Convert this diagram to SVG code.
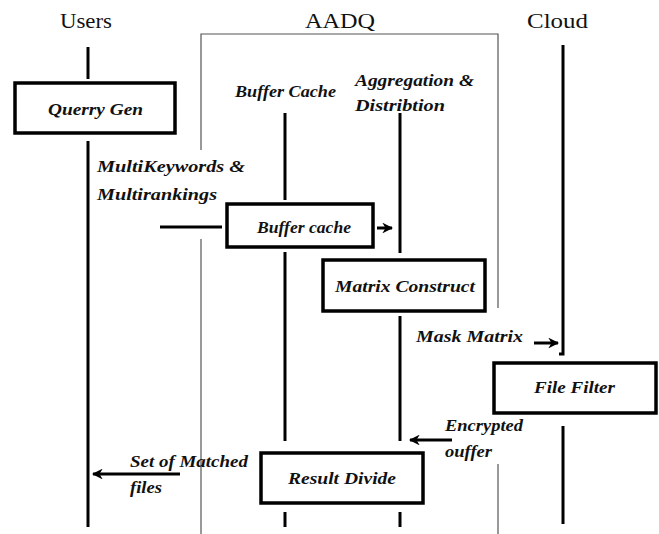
<svg xmlns="http://www.w3.org/2000/svg" width="659" height="534" viewBox="0 0 659 534">
<defs>
<marker id="ah" viewBox="0 0 10 10" refX="9" refY="5" markerWidth="3.6" markerHeight="3.6" orient="auto" markerUnits="strokeWidth">
<path d="M0,0 L10,5 L0,10 L3,5 z" fill="#000"/>
</marker>
<style>
.title{font-family:'Liberation Serif','DejaVu Serif',serif;font-size:22px;fill:#111}
.lbl{font-family:'Liberation Serif','DejaVu Serif',serif;font-style:italic;font-weight:bold;font-size:17px;fill:#111}
.life{stroke:#000;stroke-width:3;fill:none}
.box{stroke:#000;stroke-width:3.5;fill:#fff}
.frame{stroke:#555;stroke-width:1.2;fill:none}
.msg{stroke:#000;stroke-width:3;fill:none}
</style>
</defs>
<rect width="659" height="534" fill="#fff"/>
<g id="titles">
<text class="title" x="60" y="28" textLength="52" lengthAdjust="spacingAndGlyphs">Users</text>
<text class="title" x="305" y="28" textLength="70" lengthAdjust="spacingAndGlyphs">AADQ</text>
<text class="title" x="527" y="28" textLength="61" lengthAdjust="spacingAndGlyphs">Cloud</text>
</g>
<g id="aadq-frame">
<path class="frame" d="M201,150 V34 H498 V308"/>
<path class="frame" d="M201,239 V534"/>
<path class="frame" d="M498,464 V534"/>
</g>
<g id="lifelines">
<line class="life" x1="88" y1="47" x2="88" y2="79"/>
<line class="life" x1="88" y1="141" x2="88" y2="527"/>
<line class="life" x1="285" y1="113" x2="285" y2="200"/>
<line class="life" x1="285" y1="252" x2="285" y2="441"/>
<line class="life" x1="285" y1="512" x2="285" y2="527"/>
<line class="life" x1="400" y1="113" x2="400" y2="253"/>
<line class="life" x1="400" y1="316" x2="400" y2="441"/>
<line class="life" x1="400" y1="512" x2="400" y2="527"/>
<path class="life" d="M563,45 V354 H559"/>
<line class="life" x1="563" y1="426" x2="563" y2="524"/>
</g>
<g id="querry-gen">
<rect class="box" x="15" y="83" width="160" height="50"/>
<text class="lbl" x="48" y="115" textLength="95" lengthAdjust="spacingAndGlyphs">Querry Gen</text>
</g>
<g id="buffer-cache-header">
<text class="lbl" x="235" y="97" textLength="101" lengthAdjust="spacingAndGlyphs">Buffer Cache</text>
</g>
<g id="aggregation-header">
<text class="lbl" x="355" y="86" textLength="119" lengthAdjust="spacingAndGlyphs">Aggregation &amp;</text>
<text class="lbl" x="355" y="111" textLength="90" lengthAdjust="spacingAndGlyphs">Distribtion</text>
</g>
<g id="buffer-cache">
<rect class="box" x="227" y="204" width="146" height="43"/>
<text class="lbl" x="257" y="233" textLength="94" lengthAdjust="spacingAndGlyphs">Buffer cache</text>
</g>
<g id="matrix-construct">
<rect class="box" x="323" y="260" width="162" height="51"/>
<text class="lbl" x="335" y="292" textLength="140" lengthAdjust="spacingAndGlyphs">Matrix Construct</text>
</g>
<g id="file-filter">
<rect class="box" x="494" y="363" width="162" height="50"/>
<text class="lbl" x="534" y="393" textLength="81" lengthAdjust="spacingAndGlyphs">File Filter</text>
</g>
<g id="result-divide">
<rect class="box" x="261" y="453" width="162" height="50"/>
<text class="lbl" x="288" y="484" textLength="108" lengthAdjust="spacingAndGlyphs">Result Divide</text>
</g>
<g id="connectors">
<line class="msg" x1="160" y1="227" x2="222" y2="227"/>
<line class="msg" x1="377" y1="228" x2="392" y2="228" marker-end="url(#ah)"/>
<line class="msg" x1="534" y1="343" x2="558" y2="343" marker-end="url(#ah)"/>
<line class="msg" x1="452" y1="440" x2="410" y2="440" marker-end="url(#ah)"/>
<line class="msg" x1="180" y1="474" x2="93" y2="474" marker-end="url(#ah)"/>
</g>
<g id="message-labels">
<text class="lbl" x="97" y="172" textLength="148" lengthAdjust="spacingAndGlyphs">MultiKeywords &amp;</text>
<text class="lbl" x="97" y="200" textLength="120" lengthAdjust="spacingAndGlyphs">Multirankings</text>
<text class="lbl" x="416" y="342" textLength="107" lengthAdjust="spacingAndGlyphs">Mask Matrix</text>
<text class="lbl" x="445" y="431" textLength="78" lengthAdjust="spacingAndGlyphs">Encrypted</text>
<text class="lbl" x="445" y="457" textLength="47" lengthAdjust="spacingAndGlyphs">ouffer</text>
<text class="lbl" x="130" y="467" textLength="118" lengthAdjust="spacingAndGlyphs">Set of Matched</text>
<text class="lbl" x="130" y="493" textLength="32" lengthAdjust="spacingAndGlyphs">files</text>
</g>
</svg>
